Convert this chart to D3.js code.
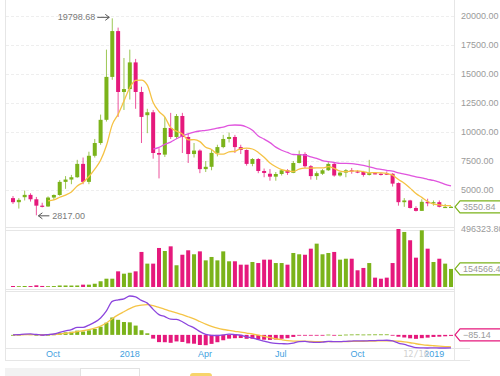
<!DOCTYPE html>
<html>
<head>
<meta charset="utf-8">
<script src="https://cdn.jsdelivr.net/npm/d3@7/dist/d3.min.js"></script>
<style>
  body { margin: 0; background: #fff; }
  svg { display: block; font-family: "Liberation Sans", Arial, sans-serif; }
</style>
</head>
<body>
<svg id="chart" width="500" height="376"></svg>
<script>
// weekly candles, BTC/USDT
var weeks = [
  "2017-08-14","2017-08-21","2017-08-28","2017-09-04","2017-09-11","2017-09-18","2017-09-25",
  "2017-10-02","2017-10-09","2017-10-16","2017-10-23","2017-10-30","2017-11-06","2017-11-13",
  "2017-11-20","2017-11-27","2017-12-04","2017-12-11","2017-12-18","2017-12-25","2018-01-01",
  "2018-01-08","2018-01-15","2018-01-22","2018-01-29","2018-02-05","2018-02-12","2018-02-19",
  "2018-02-26","2018-03-05","2018-03-12","2018-03-19","2018-03-26","2018-04-02","2018-04-09",
  "2018-04-16","2018-04-23","2018-04-30","2018-05-07","2018-05-14","2018-05-21","2018-05-28",
  "2018-06-04","2018-06-11","2018-06-18","2018-06-25","2018-07-02","2018-07-09","2018-07-16",
  "2018-07-23","2018-07-30","2018-08-06","2018-08-13","2018-08-20","2018-08-27","2018-09-03",
  "2018-09-10","2018-09-17","2018-09-24","2018-10-01","2018-10-08","2018-10-15","2018-10-22",
  "2018-10-29","2018-11-05","2018-11-12","2018-11-19","2018-11-26","2018-12-03","2018-12-10",
  "2018-12-17","2018-12-24","2018-12-31","2019-01-07","2019-01-14","2019-01-21"
];
var opens = [4300,3950,4380,4580,4200,3650,3580,4350,4570,5700,5900,6100,7250,5700,7950,9050,
  11050,14750,18700,13450,13700,16000,13450,11450,11700,8190,8050,10350,9570,11380,9570,8100,
  8400,6800,7000,8200,8700,9400,9570,8700,8450,7250,7670,6640,6400,6150,6380,6700,6480,7330,
  8100,7050,6200,6400,6700,7250,6250,6500,6700,6600,6550,6300,6450,6400,6420,6400,5600,3950,
  4100,3450,3200,3980,3850,3950,3530,3545];
var highs = [4480,4300,4950,4720,4400,3900,4450,4620,5850,6200,6300,7600,7800,8300,9400,11500,
  17100,19798.68,19000,16380,17100,16300,13900,12000,11900,8600,11300,11650,11550,11650,9900,9050,
  8500,7500,8450,8900,9750,9950,9750,8900,8500,7750,7750,6850,6800,6550,6800,6800,7500,8400,
  8250,7150,6600,6800,7400,7400,6550,6800,6900,6700,6650,7600,6500,6500,6600,6450,5650,4300,
  4150,3600,4200,4250,4100,4100,3800,3620];
var lows = [3800,3400,4100,4000,2817,3500,3550,4150,4500,5100,5500,6050,5500,5500,7800,8900,
  10900,14500,11300,11900,12800,12000,9050,9900,7700,6000,7850,9400,9400,8190,7330,7800,
  6450,6550,6700,7900,8600,9100,8190,8100,7100,7050,6450,6100,5800,5800,6250,6300,6450,7300,
  6900,5900,5880,6300,6650,6150,6150,6100,6400,6450,6150,6250,6350,6250,6300,5300,3650,3550,
  3400,3150,3200,3600,3650,3500,3450,3500];
var closes = [3950,4150,4580,4200,3650,3580,4350,4570,5700,5900,6100,7250,5700,7950,9050,11050,
  14750,18700,13450,13700,16000,13450,11300,11700,8190,8050,10350,9570,11380,9570,8100,8400,
  6800,7000,8200,8700,9400,9570,8700,8450,7250,7670,6640,6470,6150,6380,6700,6480,7330,8100,
  7050,6200,6450,6700,7250,6250,6500,6700,6600,6550,6300,6450,6400,6350,6330,5550,3950,4100,
  3450,3200,3980,3850,3950,3550,3545,3550.84];
var volumes = [8600,7000,8500,8000,14500,9000,7000,8000,13000,13000,12500,13000,20000,20000,
  28000,49000,71000,71000,134000,114000,122000,134000,300000,200000,200000,334000,308000,348000,
  186000,276000,314000,280000,305000,228000,257000,228000,305000,220000,220000,191000,191000,
  214000,205000,234000,234000,205000,205000,191000,291000,280000,276000,328000,371000,280000,
  291000,300000,234000,242000,242000,143000,163000,205000,80000,71000,80000,205000,496323.8,
  471000,400000,251000,485000,328000,214000,242000,200000,154566.4];
var priceTicks = [5000, 7500, 10000, 12500, 15000, 17500, 20000];
var timeTicks = ["2017-10-01", "2018-01-01", "2018-04-01", "2018-07-01", "2018-10-01", "2019-01-01"];
var timeTickLabels = ["Oct", "2018", "Apr", "Jul", "Oct", "2019"];
var lastMacd = -85.14;
var crossLabel = "12/10";

var C = {
  up: "#7bb31a",
  down: "#e5197c",
  ma7: "#f5c244",
  ma25: "#e055de",
  dif: "#8c45dd",
  dea: "#f5c446",
  axisText: "#9a9a9a",
  frame: "#e6e6e6",
  grid: "#eeeeee",
  timeText: "#3f9fe0"
};

var svg = d3.select("#chart");
var parse = d3.timeParse("%Y-%m-%d");
var dates = weeks.map(parse);
var rows = dates.map(function(d, i) {
  return {date: d, o: opens[i], h: highs[i], l: lows[i], c: closes[i], v: volumes[i]};
});

var x = d3.scaleTime().domain([dates[0], dates[dates.length - 1]]).range([13, 451]);
var yPrice = d3.scaleLinear().domain([5000, 20000]).range([190, 16]);
var yVol = d3.scaleLinear().domain([0, d3.max(volumes)]).range([287, 229]);
var candleW = 4;

function colorOf(r) { return r.c >= r.o ? C.up : C.down; }

// moving averages and macd from closes
function sma(vals, n) {
  return vals.map(function(v, i) {
    if (i < n - 1) return null;
    return d3.mean(vals.slice(i - n + 1, i + 1));
  });
}
function ema(vals, n) {
  var k = 2 / (n + 1), prev, out = [];
  vals.forEach(function(v, i) {
    prev = i === 0 ? v : v * k + prev * (1 - k);
    out.push(prev);
  });
  return out;
}
var ma7 = sma(closes, 7);
var ma25 = sma(closes, 25);
var e12 = ema(closes, 12), e26 = ema(closes, 26);
var dif = e12.map(function(v, i) { return v - e26[i]; });
var dea = ema(dif, 9);
var hist = dif.map(function(v, i) { return v - dea[i]; });
var macdExt = d3.extent(dif.concat(dea, hist));
var yMacd = d3.scaleLinear().domain(macdExt).range([348, 296]);

// frame
var frame = svg.append("g").attr("stroke", C.frame).attr("fill", "none");
frame.append("line").attr("x1", 5.5).attr("x2", 5.5).attr("y1", 0).attr("y2", 361);
frame.append("line").attr("x1", 454.5).attr("x2", 454.5).attr("y1", 0).attr("y2", 361);
[227.5, 230.5, 289.5, 291.5, 348.5, 360.5].forEach(function(yy) {
  frame.append("line").attr("x1", 5).attr("x2", yy > 340 ? 470 : 455).attr("y1", yy).attr("y2", yy);
});

// price grid + axis
svg.append("g").selectAll("line").data(priceTicks).enter().append("line")
  .attr("x1", 6).attr("x2", 454)
  .attr("y1", function(d) { return Math.round(yPrice(d)) + 0.5; })
  .attr("y2", function(d) { return Math.round(yPrice(d)) + 0.5; })
  .attr("stroke", C.grid).attr("stroke-dasharray", "3,2");

var yAxis = d3.axisRight(yPrice).tickValues(priceTicks).tickSize(0).tickPadding(0)
  .tickFormat(d3.format(".2f"));
svg.append("g").attr("transform", "translate(461,0)").call(yAxis)
  .call(function(g) { g.select(".domain").remove(); })
  .selectAll("text").attr("fill", C.axisText).attr("font-size", 9);

// candles
var candles = svg.append("g").selectAll("g").data(rows).enter().append("g");
candles.append("line")
  .attr("x1", function(d) { return x(d.date); })
  .attr("x2", function(d) { return x(d.date); })
  .attr("y1", function(d) { return yPrice(d.h); })
  .attr("y2", function(d) { return yPrice(d.l); })
  .attr("stroke", colorOf).attr("stroke-width", 1).attr("stroke-opacity", 0.75);
candles.append("rect")
  .attr("x", function(d) { return x(d.date) - candleW / 2; })
  .attr("y", function(d) { return yPrice(Math.max(d.o, d.c)); })
  .attr("width", candleW)
  .attr("height", function(d) { return Math.max(1.2, Math.abs(yPrice(d.o) - yPrice(d.c))); })
  .attr("fill", colorOf);

// MA lines
function drawLine(vals, yScale, color) {
  var line = d3.line()
    .defined(function(d) { return d !== null; })
    .x(function(d, i) { return x(dates[i]); })
    .y(function(d) { return yScale(d); })
    .curve(d3.curveMonotoneX);
  svg.append("path").datum(vals).attr("d", line)
    .attr("fill", "none").attr("stroke", color).attr("stroke-width", 1.3);
}
drawLine(ma25, yPrice, C.ma25);
drawLine(ma7, yPrice, C.ma7);

// high / low markers
var fmt = d3.format(".2f");
var hiIdx = d3.maxIndex(highs), loIdx = d3.minIndex(lows);
var hx = x(dates[hiIdx]) - 3, hy = yPrice(highs[hiIdx]) - 1;
var ann = svg.append("g").attr("font-size", 9).attr("fill", "#7a7a7a");
ann.append("text").attr("x", hx - 14).attr("y", hy + 3).attr("text-anchor", "end").text(fmt(highs[hiIdx]));
ann.append("path").attr("d", "M" + (hx - 12) + "," + hy + "H" + hx + "M" + (hx - 4) + "," + (hy - 3) + "L" + hx + "," + hy + "L" + (hx - 4) + "," + (hy + 3))
  .attr("stroke", "#555").attr("fill", "none");
var lx = x(dates[loIdx]) + 2, ly = yPrice(lows[loIdx]) + 0.5;
ann.append("path").attr("d", "M" + lx + "," + ly + "H" + (lx + 11) + "M" + (lx + 4) + "," + (ly - 3) + "L" + lx + "," + ly + "L" + (lx + 4) + "," + (ly + 3))
  .attr("stroke", "#555").attr("fill", "none");
ann.append("text").attr("x", lx + 14).attr("y", ly + 3).text(fmt(lows[loIdx]));

// volume
svg.append("g").selectAll("rect").data(rows).enter().append("rect")
  .attr("x", function(d) { return x(d.date) - candleW / 2; })
  .attr("y", function(d) { return yVol(d.v); })
  .attr("width", candleW)
  .attr("height", function(d) { return Math.max(0.8, yVol(0) - yVol(d.v)); })
  .attr("fill", colorOf);
svg.append("text").attr("x", 461).attr("y", 232).attr("font-size", 9).attr("fill", C.axisText)
  .text(fmt(d3.max(volumes)));

// macd
svg.append("g").selectAll("rect").data(hist).enter().append("rect")
  .attr("x", function(d, i) { return x(dates[i]) - candleW / 2; })
  .attr("y", function(d) { return Math.min(yMacd(d), yMacd(0)); })
  .attr("width", candleW)
  .attr("height", function(d) { return Math.max(0.8, Math.abs(yMacd(d) - yMacd(0))); })
  .attr("fill", function(d) { return d >= 0 ? C.up : C.down; });
drawLine(dea, yMacd, C.dea);
drawLine(dif, yMacd, C.dif);

// value tags on the right
function tag(yv, text, color) {
  var g = svg.append("g");
  g.append("path")
    .attr("d", "M455," + yv + "L460," + (yv - 6) + "H503V" + (yv + 6) + "H460Z")
    .attr("fill", "#fff").attr("stroke", color).attr("stroke-width", 1.2).attr("stroke-linejoin", "round");
  g.append("text").attr("x", 463).attr("y", yv + 3.2).attr("font-size", 9)
    .attr("fill", C.axisText).text(text);
}
var last = rows[rows.length - 1];
tag(yPrice(last.c), fmt(last.c), C.up);
tag(yVol(last.v), fmt(last.v), C.up);
tag(yMacd(0), fmt(lastMacd), C.down);

// time axis
var tickDates = timeTicks.map(parse);
svg.append("g").selectAll("text").data(tickDates).enter().append("text")
  .attr("x", function(d) { return x(d); })
  .attr("y", 357)
  .attr("text-anchor", "middle").attr("font-size", 9).attr("fill", C.timeText)
  .text(function(d, i) { return timeTickLabels[i]; });
svg.append("text").attr("x", 416).attr("y", 357).attr("text-anchor", "middle")
  .attr("font-family", "DejaVu Sans Mono, monospace").attr("font-size", 8.5)
  .attr("fill", "#d0d0d0").text(crossLabel);

// panel tabs underneath
svg.append("rect").attr("x", 5).attr("y", 368).attr("width", 75).attr("height", 10).attr("fill", "#f2f2f2");
svg.append("rect").attr("x", 80.5).attr("y", 368.5).attr("width", 59).attr("height", 10)
  .attr("fill", "#fff").attr("stroke", "#e2e2e2");
svg.append("rect").attr("x", 190).attr("y", 373).attr("width", 22).attr("height", 8).attr("rx", 3)
  .attr("fill", "#f7d46a");
</script>
</body>
</html>
